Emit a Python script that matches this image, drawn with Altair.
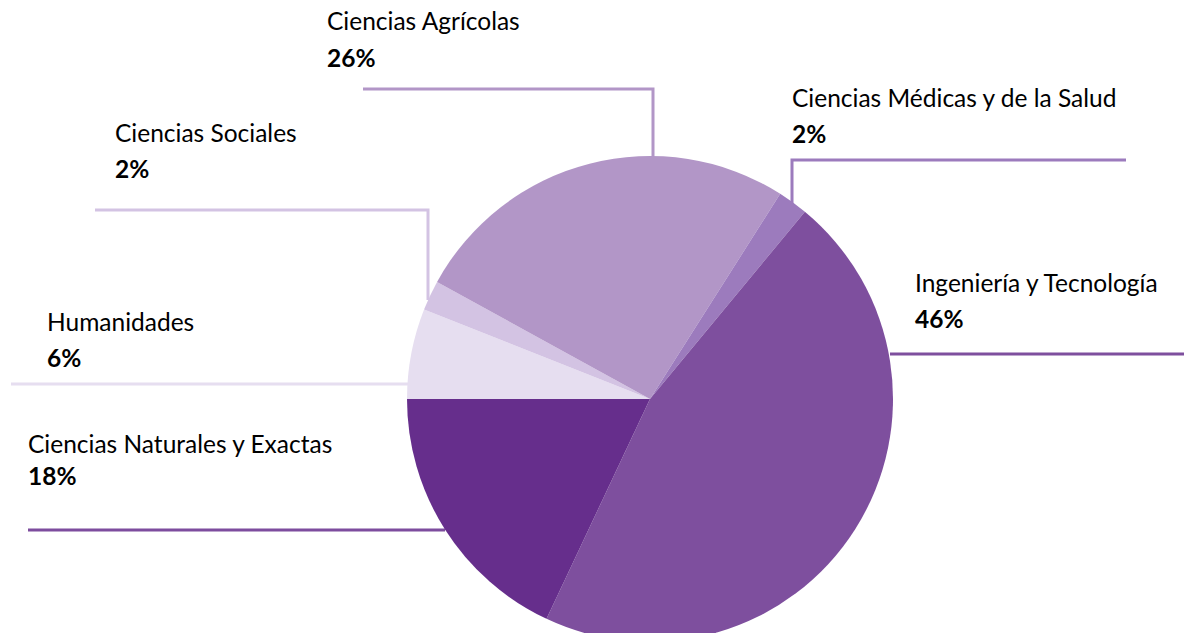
import math
import altair as alt
import pandas as pd

# ---- data ----
categories = ["Humanidades", "Ciencias Sociales", "Ciencias Agrícolas",
              "Ciencias Médicas y de la Salud", "Ingeniería y Tecnología",
              "Ciencias Naturales y Exactas"]
values = [6, 2, 26, 2, 46, 18]
pct_labels = ["6%", "2%", "26%", "2%", "46%", "18%"]
slice_colors = ["#E6DEF0", "#D3C3E3", "#B296C7", "#9C7BBD", "#7E4F9E", "#662E8C"]
line_colors = ["#E6DEF0", "#D3C3E3", "#B296C7", "#9C7BBD", "#7E4F9E", "#7D4D9E"]

# ---- layout (page pixel coordinates) ----
OFF = 8
W, H = 1176, 625
CX, CY, R = 650, 399, 243
label_x = [47, 115, 327, 792, 915, 28]
name_base = [331, 142, 30, 107, 292, 453]
pct_base = [367, 178, 67, 143, 328, 485]
leaders = [
    [(11, 384), (410, 384)],
    [(95, 210), (428, 210), (428, 300)],
    [(363, 89), (653, 89), (653, 160)],
    [(1126, 160), (792, 160), (792, 205)],
    [(890, 354), (1192, 354)],
    [(28, 530), (445, 530)],
]
FONT = "Lato"
FS = 24.5

pie_df = pd.DataFrame({"cat": categories, "val": values, "color": slice_colors,
                       "idx": list(range(len(categories)))})

rows = []
for i, pts in enumerate(leaders):
    for j, (px, py) in enumerate(pts):
        rows.append({"group": categories[i], "seq": j, "x": px, "y": py, "lc": line_colors[i]})
lines_df = pd.DataFrame(rows)

text_df = pd.DataFrame({"name": categories, "pct": pct_labels, "x": label_x,
                        "yn": name_base, "yp": pct_base})

xs = alt.Scale(domain=[OFF, OFF + W], nice=False, zero=False)
ys = alt.Scale(domain=[OFF, OFF + H], nice=False, zero=False, reverse=True)

lines = alt.Chart(lines_df).mark_line(strokeWidth=3).encode(
    x=alt.X("x:Q", scale=xs, axis=None),
    y=alt.Y("y:Q", scale=ys, axis=None),
    detail="group:N",
    order="seq:Q",
    color=alt.Color("lc:N", scale=None),
)

pie = alt.Chart(pie_df).mark_arc(radius=R, x=CX - OFF, y=CY - OFF, strokeWidth=0).encode(
    theta=alt.Theta("val:Q", stack=True,
                    scale=alt.Scale(range=[1.5 * math.pi, 3.5 * math.pi])),
    order=alt.Order("idx:Q"),
    color=alt.Color("color:N", scale=None),
)

names = alt.Chart(text_df).mark_text(align="left", baseline="alphabetic", font=FONT,
                                     fontSize=FS, color="#000000").encode(
    x=alt.X("x:Q", scale=xs, axis=None),
    y=alt.Y("yn:Q", scale=ys, axis=None),
    text="name:N",
)

pcts = alt.Chart(text_df).mark_text(align="left", baseline="alphabetic", font=FONT,
                                    fontSize=FS, fontWeight="bold", color="#000000").encode(
    x=alt.X("x:Q", scale=xs, axis=None),
    y=alt.Y("yp:Q", scale=ys, axis=None),
    text="pct:N",
)

chart = alt.layer(lines, pie, names, pcts).properties(
    width=W, height=H, padding=0, autosize="none", background="white"
).configure_view(stroke=None)

chart.save("out.html", embed_options={"renderer": "svg", "actions": False})
